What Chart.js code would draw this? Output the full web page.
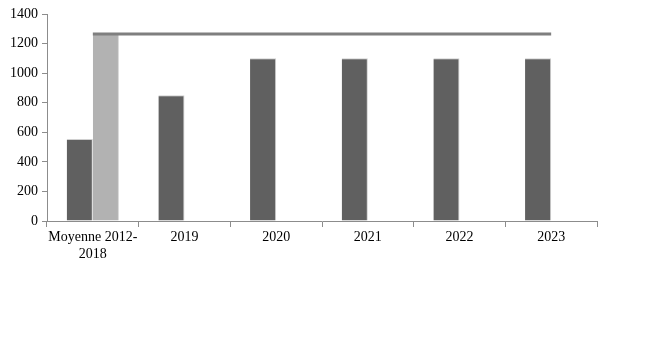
<!DOCTYPE html>
<html>
<head>
<meta charset="utf-8">
<script src="https://cdn.jsdelivr.net/npm/chart.js@4"></script>
<style>
  html, body { margin: 0; padding: 0; background: #fff; }
</style>
</head>
<body>
<canvas id="chart" width="647" height="339"></canvas>
<script>
// categories and series
const categories = [["Moyenne 2012-", "2018"], "2019", "2020", "2021", "2022", "2023"];
const darkValues = [555, 850, 1100, 1100, 1100, 1100];
const lightValues = [1260, null, null, null, null, null];
const lineValues = [1265, 1265, 1265, 1265, 1265, 1265];
const yTicks = [0, 200, 400, 600, 800, 1000, 1200, 1400];

const axisColor = "#8c8c8c";
const font = { family: "'Liberation Serif', serif", size: 14 };

new Chart(document.getElementById("chart").getContext("2d"), {
    type: "bar",
    data: {
        labels: categories,
        datasets: [
            {
                type: "line",
                data: lineValues,
                borderColor: "#7f7f7f",
                borderWidth: 3,
                pointRadius: 0,
                order: 0
            },
            {
                data: darkValues,
                backgroundColor: "#606060",
                borderColor: "#d0d0d0",
                borderWidth: { right: 1, top: 1 },
                barPercentage: 1,
                categoryPercentage: 0.57,
                order: 1
            },
            {
                data: lightValues,
                backgroundColor: "#b2b2b2",
                borderColor: "#d8d8d8",
                borderWidth: { right: 1 },
                barPercentage: 1,
                categoryPercentage: 0.57,
                order: 1
            }
        ]
    },
    options: {
        responsive: false,
        animation: false,
        layout: { padding: { top: 14, right: 50, left: 0, bottom: 0 } },
        plugins: {
            legend: { display: false },
            tooltip: { enabled: false }
        },
        scales: {
            x: {
                grid: {
                    offset: true,
                    drawOnChartArea: false,
                    tickLength: 6,
                    color: axisColor
                },
                border: { color: axisColor },
                ticks: { color: "#000", font, maxRotation: 0, autoSkip: false, padding: 2 },
                afterFit: s => { s.height = 118; }
            },
            y: {
                min: 0,
                max: 1400,
                afterBuildTicks: s => { s.ticks = yTicks.map(v => ({ value: v })); },
                grid: {
                    drawOnChartArea: false,
                    tickLength: 5,
                    color: axisColor
                },
                border: { color: axisColor },
                ticks: { color: "#000", font, padding: 4, callback: v => String(v) },
                afterFit: s => { s.width = 47; }
            }
        }
    }
});
</script>
</body>
</html>
